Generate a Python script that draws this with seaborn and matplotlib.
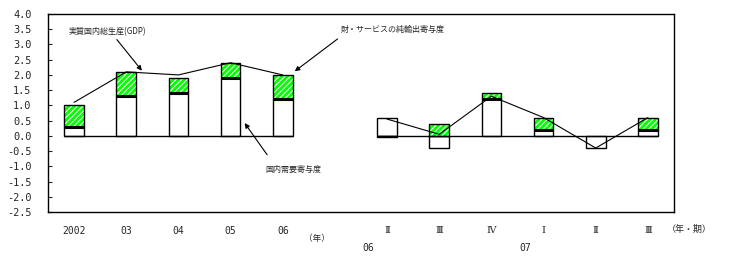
import matplotlib
matplotlib.use("Agg")
import matplotlib.pyplot as plt
import seaborn as sns
import pandas as pd
import numpy as np
from matplotlib.ticker import FormatStrFormatter, MultipleLocator

# ---- data ----
periods = ['2002', '2003', '2004', '2005', '2006',
           '06Q2', '06Q3', '06Q4', '07Q1', '07Q2', '07Q3']
tick_labels = ['2002', '03', '04', '05', '06',
               'Ⅱ', 'Ⅲ', 'Ⅳ', 'Ⅰ', 'Ⅱ', 'Ⅲ']
groups = ['annual'] * 5 + ['quarterly'] * 6
domestic = [0.3, 1.3, 1.4, 1.9, 1.2, 0.6, -0.4, 1.2, 0.2, -0.4, 0.2]
external = [0.7, 0.8, 0.5, 0.5, 0.8, -0.05, 0.4, 0.2, 0.4, 0.0, 0.4]
gdp = [1.1, 2.1, 2.0, 2.4, 2.0, 0.55, 0.05, 1.3, 0.6, -0.4, 0.6]
order = periods[:5] + ['gap'] + periods[5:]

sns.set_style('ticks')
plt.rcParams['axes.unicode_minus'] = False
plt.rcParams['hatch.linewidth'] = 0.8
plt.rcParams['font.family'] = ['DejaVu Sans', 'Noto Sans CJK JP']

df = pd.DataFrame({'period': periods, 'domestic': domestic,
                   'external': external, 'gdp': gdp, 'group': groups})
df['pos'] = [order.index(p) for p in periods]

fig = plt.figure(figsize=(7.42, 2.62), dpi=100)
ax = fig.add_axes([48 / 742, 50 / 262, 626 / 742, 198 / 262])

W = 0.38
GREEN = '#00ff00'

# domestic demand bars (white)
sns.barplot(data=df, x='period', y='domestic', order=order, width=W,
            color='white', saturation=1, edgecolor='black', linewidth=1.0,
            ax=ax, zorder=2)

# external (net exports) bars, stacked on domestic when same sign
dom = np.array(domestic)
ext = np.array(external)
bottoms = np.where(np.sign(dom) == np.sign(ext), dom, 0.0)
pos = df['pos'].to_numpy()
mask = ext != 0
ax.bar(pos[mask], ext[mask], bottom=bottoms[mask], width=W, color=GREEN,
       edgecolor='white', linewidth=0, hatch='//////', zorder=3)
ax.bar(pos[mask], ext[mask], bottom=bottoms[mask], width=W, facecolor='none',
       edgecolor='black', linewidth=1.0, zorder=4)

# thick separator at top of domestic part
stk = mask & (bottoms != 0)
ax.hlines(dom[stk], pos[stk] - W / 2, pos[stk] + W / 2, colors='black',
          linewidth=2.2, zorder=5)

# zero line per group
for g in ['annual', 'quarterly']:
    p = df.loc[df['group'] == g, 'pos']
    ax.hlines(0, p.min() - W / 2, p.max() + W / 2, colors='black',
              linewidth=1.0, zorder=5)

# real GDP line
sns.lineplot(data=df, x='pos', y='gdp', units='group', estimator=None,
             color='black', linewidth=0.8, ax=ax, zorder=6)

ax.set_xlim(-0.5, len(order) - 0.5)
ax.set_ylim(-2.5, 4.0)
ax.yaxis.set_major_locator(MultipleLocator(0.5))
ax.yaxis.set_major_formatter(FormatStrFormatter('%.1f'))
ax.set_xlabel('')
ax.set_ylabel('')
ax.set_xticks(pos)
ax.set_xticklabels(tick_labels)
ax.tick_params(axis='x', length=0, pad=10)
ax.tick_params(axis='y', direction='in', length=3, width=0.8, pad=12)
for lab in ax.get_yticklabels():
    lab.set_fontfamily('DejaVu Sans Mono')
    lab.set_fontsize(7.4)
for lab in ax.get_xticklabels():
    if lab.get_text().isdigit():
        lab.set_fontfamily('DejaVu Sans Mono')
        lab.set_fontsize(7)
    else:
        lab.set_fontfamily(['DejaVu Serif', 'Noto Sans CJK JP'])
        lab.set_fontsize(7)

for s in ax.spines.values():
    s.set_visible(True)
    s.set_linewidth(1.0)
    s.set_color('black')

cjk = ['Noto Sans CJK JP', 'DejaVu Sans']
tr = ax.get_xaxis_transform()
ax.text(5.63, -0.18, '06', transform=tr, ha='center', va='center',
        fontsize=7, family='DejaVu Sans Mono', clip_on=False)
ax.text(8.64, -0.18, '07', transform=tr, ha='center', va='center',
        fontsize=7, family='DejaVu Sans Mono', clip_on=False)
ax.text(4.65, -0.133, '（年）', transform=tr, ha='center', va='center',
        fontsize=6.2, family=cjk, clip_on=False)
ax.text(11.8, -0.086, '（年・期）', transform=tr, ha='center', va='center',
        fontsize=6.5, family=cjk, clip_on=False)

arrow = dict(arrowstyle='-|>', color='black', lw=0.8, mutation_scale=7,
             shrinkA=0, shrinkB=0)
ax.text(0.64, 3.43, '実質国内総生産(GDP)', ha='center', va='center',
        fontsize=5.8, family=cjk)
ax.annotate('', xy=(1.30, 2.14), xytext=(0.82, 3.16), arrowprops=arrow)
ax.text(6.11, 3.51, '財・サービスの純輸出寄与度', ha='center', va='center',
        fontsize=5.8, family=cjk)
ax.annotate('', xy=(4.23, 2.12), xytext=(5.05, 3.18), arrowprops=arrow)
ax.text(4.20, -1.10, '国内需要寄与度', ha='center', va='center',
        fontsize=5.8, family=cjk)
ax.annotate('', xy=(3.27, 0.42), xytext=(3.70, -0.62), arrowprops=arrow)

fig.savefig('out.png', dpi=100)
